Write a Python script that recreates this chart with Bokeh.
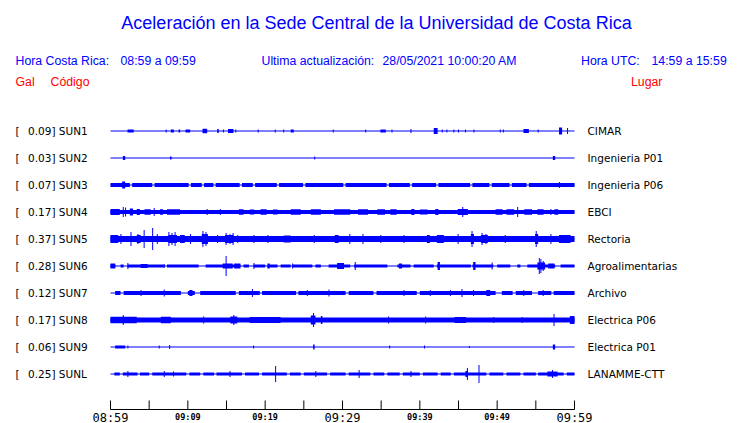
from bokeh.plotting import figure
from bokeh.models import Range1d, ColumnDataSource
from bokeh.core.properties import value
from bokeh.embed import file_html
from bokeh.resources import INLINE

# ---------------- data ----------------
title_text = "Aceleración en la Sede Central de la Universidad de Costa Rica"
codes = ["SUN1", "SUN2", "SUN3", "SUN4", "SUN5", "SUN6", "SUN7", "SUN8", "SUN9", "SUNL"]
gal = ["0.09", "0.03", "0.07", "0.17", "0.37", "0.28", "0.12", "0.17", "0.06", "0.25"]
places = ["CIMAR", "Ingenieria P01", "Ingenieria P06", "EBCI", "Rectoria",
          "Agroalimentarias", "Archivo", "Electrica P06", "Electrica P01", "LANAMME-CTT"]
# background noise half-amplitude of each trace (plot units)
noise = [0.5, 0.5, 2, 2, 3, 1.5, 2, 2.5, 0.5, 1.5]
# quiet stretches (minutes) where the noise band drops to a thin line
quiet_sun3 = [(2.5, 2.8), (5.4, 5.7), (10.1, 10.4), (11.8, 12.1), (13.3, 13.6), (16.7, 17.0),
              (18.4, 18.7), (21.5, 21.8), (24.9, 25.2), (30.1, 30.4), (35.7, 36.0), (38.7, 39.0),
              (42.1, 42.4), (46.5, 46.8), (49.0, 49.3), (51.6, 51.9), (53.8, 54.1)]
quiet_sun6 = [(0.65, 1.3), (1.7, 2.2), (6.9, 7.3), (11.4, 12.3), (16.8, 17.2), (17.9, 18.5),
              (20.0, 20.3), (21.6, 22.0), (23.3, 23.5), (26.1, 26.5), (27.2, 28.2), (31.0, 31.5),
              (35.8, 37.1), (38.8, 39.2), (41.8, 42.2), (46.6, 46.8), (49.5, 50.0), (51.7, 52.6),
              (53.0, 53.9), (57.5, 58.2)]
quiet_sun7 = [(0, 0.6), (1.3, 1.7), (9.1, 10.0), (10.9, 11.6), (16.2, 16.6), (19.3, 19.6),
              (24.0, 24.3), (30.4, 30.8), (34.0, 34.4), (39.6, 40.0), (49.8, 50.6), (52.0, 52.4),
              (54.5, 55.3), (57.0, 57.3)]
quiet_sunl = [(0, 0.5), (1.2, 1.6), (3.5, 3.8), (5.0, 5.4), (9.8, 10.2), (11.6, 12.0), (13.4, 13.7),
              (17.0, 17.4), (19.2, 19.6), (22.8, 23.2), (24.6, 25.0), (28.0, 28.4), (30.4, 30.8),
              (33.6, 34.0), (35.4, 35.8), (37.4, 37.8), (40.0, 40.4), (42.3, 42.7), (44.0, 44.4),
              (48.6, 49.0), (50.8, 51.2), (53.0, 53.4), (55.0, 55.3), (58.6, 59.0)]
quiet = [[], [], quiet_sun3, [], [], quiet_sun6, quiet_sun7, [], [], quiet_sunl]
# events per trace: (start minute, end minute, half-amplitude)
ev_sun1 = [(2.2, 3.0, 1.5), (7.2, 7.2, 1.5), (7.8, 8.2, 1.5), (8.8, 9.0, 1.5), (9.7, 10.3, 1.5),
           (11.9, 12.5, 2.3), (13.8, 14.0, 2), (14.6, 14.6, 1.5), (15.2, 15.9, 2), (16.2, 16.2, 1.5),
           (19.1, 19.1, 1.5), (21.3, 21.3, 1.5), (22.4, 22.4, 1.5), (23.3, 23.7, 1.5), (28.8, 28.8, 1.5),
           (33.0, 33.0, 1.5), (34.9, 35.6, 1.5), (36.4, 36.4, 1.5), (38.8, 38.9, 2), (41.8, 42.3, 3),
           (42.9, 42.9, 1.5), (43.5, 43.5, 1.5), (44.4, 44.4, 1.5), (45.0, 45.0, 1.5), (45.9, 45.9, 1.5),
           (47.0, 47.0, 1.5), (50.4, 50.4, 1.5), (50.8, 50.8, 1.5), (53.4, 54.1, 2), (55.3, 55.3, 1.5),
           (58.0, 58.4, 3.5), (59.1, 59.1, 3)]
ev_sun2 = [(1.6, 1.9, 2), (7.7, 7.9, 1.5), (26.4, 26.4, 1.5), (57.2, 57.5, 2)]
ev_sun3 = [(1.5, 1.9, 3.5), (58.0, 58.1, 3)]
ev_sun4 = [(0, 1.2, 3), (1.6, 1.7, 5), (1.9, 2.0, 4.5), (2.5, 2.9, 3.5), (3.4, 3.8, 3), (4.4, 5.2, 2.7),
           (5.6, 5.7, 4), (6.4, 6.8, 2.7), (7.3, 9.0, 2.7), (12.5, 12.5, 3), (14.2, 14.2, 3),
           (16.6, 17.2, 2.7), (18.0, 18.6, 2.5), (19.4, 20.2, 2.7), (21.0, 21.6, 2.5), (23.3, 24.6, 2.7),
           (25.9, 27.2, 2.7), (28.9, 31.0, 2.7), (32.0, 33.3, 2.7), (34.5, 35.5, 2.7), (36.2, 37.0, 2.7),
           (38.9, 39.3, 3), (40.0, 41.0, 2.5), (42.0, 42.4, 3), (44.9, 46.2, 3), (45.5, 45.6, 5),
           (49.8, 50.7, 2.8), (51.2, 52.2, 2.7), (52.6, 52.7, 5), (53.5, 54.5, 2.7), (55.2, 56.0, 2.7),
           (56.9, 57.0, 3), (57.4, 57.9, 2.7)]
ev_sun5 = [(0, 1.0, 4), (1.3, 1.4, 5), (2.6, 2.7, 7), (3.5, 3.6, 5), (3.4, 3.9, 4), (4.3, 4.4, 9),
           (5.4, 5.5, 11), (6.0, 6.1, 5), (7.5, 7.6, 7), (7.9, 8.0, 6), (8.3, 8.4, 7), (7.5, 8.6, 4),
           (9.0, 9.6, 4), (10.3, 10.4, 5), (11.9, 12.0, 8), (12.3, 12.4, 7), (11.8, 12.6, 5),
           (13.8, 13.9, 4), (14.9, 15.0, 6), (15.4, 15.5, 5), (15.8, 15.9, 6), (14.8, 15.9, 4),
           (16.4, 16.5, 4), (18.5, 18.6, 4), (20.3, 20.4, 4), (22.4, 23.3, 3.5), (26.3, 26.4, 4),
           (29.0, 29.5, 4), (30.9, 31.0, 5), (32.6, 32.7, 5), (34.9, 35.0, 4), (37.9, 38.0, 4),
           (40.9, 41.3, 4), (42.2, 43.1, 4), (44.9, 45.0, 5), (46.7, 46.8, 8), (46.6, 47.0, 5),
           (48.0, 48.1, 6), (48.5, 48.6, 5), (47.9, 48.8, 4), (51.0, 51.1, 4), (55.0, 55.1, 8),
           (54.9, 55.3, 5), (56.9, 57.0, 5), (58.0, 59.5, 4)]
ev_sun6 = [(0, 0.6, 2.5), (2.2, 2.3, 3), (3.9, 4.8, 2), (6.9, 7.0, 2), (14.9, 15.0, 10), (14.5, 15.8, 2.5),
           (16.0, 16.8, 2.5), (18.5, 18.6, 3), (20.3, 20.6, 2.5), (23.5, 23.6, 2.5), (29.3, 30.2, 3),
           (31.6, 31.7, 4), (37.3, 37.7, 2.5), (42.3, 42.6, 4), (46.9, 47.2, 4), (49.3, 49.4, 3.5),
           (55.4, 55.5, 8), (55.6, 55.7, 7), (55.9, 56.0, 5), (55.2, 56.2, 3.5), (56.6, 57.4, 2.5)]
ev_sun7 = [(3.9, 4.0, 3), (6.9, 7.0, 3.5), (10.2, 10.6, 3), (18.3, 18.4, 4), (25.4, 25.5, 3),
           (28.2, 28.3, 3.5), (37.9, 38.0, 3), (41.3, 41.4, 3), (43.9, 44.0, 3), (45.4, 45.5, 4),
           (46.9, 47.0, 3), (48.6, 49.1, 3), (53.4, 53.5, 3), (55.9, 56.0, 3)]
ev_sun8 = [(0, 3.4, 3.3), (1.6, 1.7, 5), (6.5, 7.8, 3.3), (12.0, 12.1, 3.5), (15.5, 16.4, 3.5),
           (15.9, 16.0, 5), (18.0, 22.0, 3), (25.9, 26.5, 4.5), (26.2, 26.3, 7), (27.2, 27.4, 4),
           (35.9, 36.0, 3.5), (40.7, 40.8, 3.5), (44.5, 46.0, 3), (49.5, 49.6, 3), (53.2, 53.3, 3),
           (57.3, 57.4, 6), (59.4, 60.0, 4)]
ev_sun9 = [(0.6, 1.9, 1.5), (2.2, 2.3, 1.5), (6.3, 6.3, 1.5), (7.6, 7.7, 2), (18.5, 18.5, 1.5),
           (26.2, 26.4, 2.5), (36.1, 36.1, 1.5), (40.6, 40.6, 1.5), (46.4, 46.4, 1), (57.2, 57.5, 2.5)]
ev_sunl = [(2.2, 2.3, 3), (6.9, 7.0, 3), (8.1, 8.2, 2.5), (15.4, 15.5, 3), (21.3, 21.4, 8),
           (26.5, 26.6, 3), (32.1, 32.2, 4), (38.8, 38.9, 3), (45.9, 46.2, 3), (46.1, 46.2, 6),
           (47.6, 47.7, 9), (57.1, 57.2, 4), (56.5, 57.8, 2.5)]
events = [ev_sun1, ev_sun2, ev_sun3, ev_sun4, ev_sun5, ev_sun6, ev_sun7, ev_sun8, ev_sun9, ev_sunl]

window_minutes = 60
tick_minutes = [0, 5, 10, 15, 20, 25, 30, 35, 40, 45, 50, 55, 60]
big_tick_minutes = [0, 30, 60]
big_tick_labels = ["08:59", "09:29", "09:59"]
small_tick_minutes = [10, 20, 40, 50]
small_tick_labels = ["09:09", "09:19", "09:39", "09:49"]

# ---------------- layout ----------------
W, H = 740, 423
PX0, PX1 = 110, 574          # trace start / end on screen
scale = (PX1 - PX0) / window_minutes
ROW0, ROWSTEP = 130.5, 27
BLUE = "#0000ff"
RED = "#ff0000"

p = figure(width=W, height=H, output_backend="svg", toolbar_location=None,
           x_range=Range1d((0 - PX0) / scale, (W - PX0) / scale),
           y_range=Range1d(H, 0), min_border=0, outline_line_color=None)
p.axis.visible = False
p.grid.visible = False
p.extra_x_ranges = {"px": Range1d(0, W)}

rows = [ROW0 + i * ROWSTEP for i in range(len(codes))]


def loud_spans(q):
    spans, t = [], 0.0
    for a, b in q:
        if a > t:
            spans.append((t, a))
        t = b
    if t < window_minutes:
        spans.append((t, window_minutes))
    return spans


# traces
for i, y in enumerate(rows):
    p.segment(x0=[0], y0=[y], x1=[window_minutes], y1=[y], line_color=BLUE, line_width=1)
    if noise[i] > 0.5:
        spans = loud_spans(quiet[i])
        p.quad(left=[a for a, _ in spans], right=[b for _, b in spans],
               top=[y - noise[i]] * len(spans), bottom=[y + noise[i]] * len(spans),
               fill_color=BLUE, line_color=None)
    ev = events[i]
    src = ColumnDataSource(dict(
        x=[(a + b) / 2 for a, b, _ in ev],
        w=[max(b - a, 0.13) for a, b, _ in ev],
        top=[y - amp for _, _, amp in ev],
        bottom=[y + amp for _, _, amp in ev]))
    p.vbar(x="x", width="w", top="top", bottom="bottom", source=src,
           fill_color=BLUE, line_color=None)

# station labels
sans = value("DejaVu Sans")
p.text(x=[15] * len(rows), y=rows, text=["["] * len(rows), x_range_name="px",
       text_font=sans, text_font_size="10.5px", text_baseline="middle", text_color="black")
p.text(x=[27.5] * len(rows), y=rows, text=[f"{g}] {c}" for g, c in zip(gal, codes)],
       x_range_name="px", text_font=sans, text_font_size="10.5px",
       text_baseline="middle", text_color="black")
p.text(x=[587] * len(rows), y=rows, text=places, x_range_name="px",
       text_font=sans, text_font_size="10.5px", text_baseline="middle", text_color="black")

# header
lib = value("Liberation Sans")
p.text(x=[376], y=[22], text=[title_text], x_range_name="px", text_font=lib,
       text_font_size="18px", text_align="center", text_baseline="middle", text_color=BLUE)
p.text(x=[15, 120, 261, 382, 580.5, 651], y=[60.5] * 6,
       text=["Hora Costa Rica:", "08:59 a 09:59", "Ultima actualización:",
             "28/05/2021 10:00:20 AM", "Hora UTC:", "14:59 a 15:59"],
       x_range_name="px", text_font=lib, text_font_size="12.3px",
       text_baseline="middle", text_color=BLUE)
p.text(x=[15, 50, 630.5], y=[81] * 3, text=["Gal", "Código", "Lugar"],
       x_range_name="px", text_font=lib, text_font_size="12.3px",
       text_baseline="middle", text_color=RED)

# time axis
AX_Y = 409
p.segment(x0=[0], y0=[AX_Y], x1=[window_minutes], y1=[AX_Y], line_color="black", line_width=1)
p.segment(x0=tick_minutes, y0=[AX_Y] * len(tick_minutes), x1=tick_minutes,
          y1=[AX_Y - 9] * len(tick_minutes), line_color="black", line_width=1)
p.text(x=big_tick_minutes, y=[417] * 3, text=big_tick_labels, text_font=value("DejaVu Sans Mono"),
       text_font_size="12px", text_align="center", text_baseline="middle", text_color="black")
p.text(x=small_tick_minutes, y=[416] * 4, text=small_tick_labels, text_font=value("DejaVu Sans Mono"),
       text_font_size="8.5px", text_font_style="bold", text_align="center",
       text_baseline="middle", text_color="black")

open("out.html", "w").write(file_html(p, INLINE))
